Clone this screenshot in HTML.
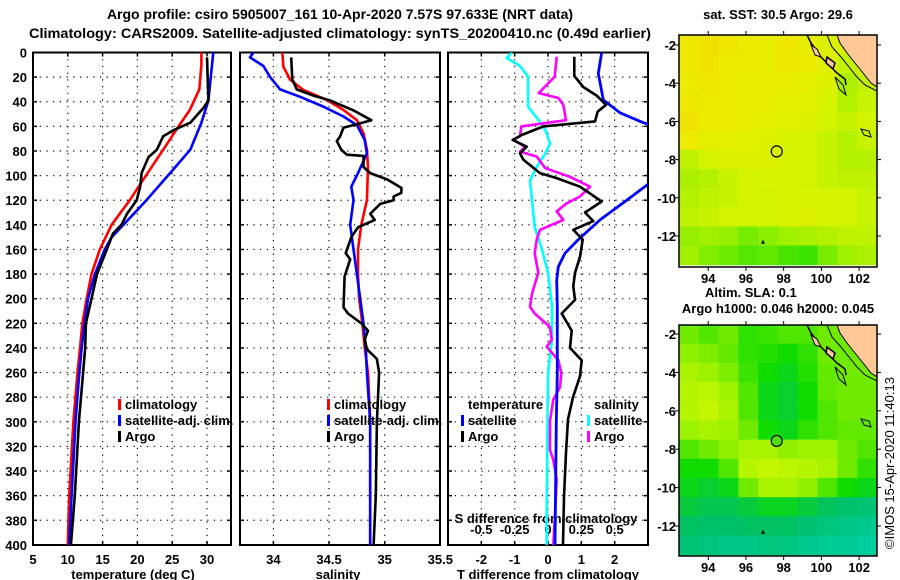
<!DOCTYPE html>
<html><head><meta charset="utf-8">
<style>
html,body{margin:0;padding:0;background:#fff;}
svg{display:block;font-family:"Liberation Sans",Arial,sans-serif;font-weight:bold;font-size:13px;}
</style></head>
<body>
<svg id="chart" width="900" height="580" viewBox="0 0 900 580" xmlns="http://www.w3.org/2000/svg">
<text x="340" y="19" text-anchor="middle" font-size="14">Argo profile: csiro 5905007_161 10-Apr-2020 7.57S 97.633E (NRT data)</text>
<text x="29" y="38" textLength="622" lengthAdjust="spacingAndGlyphs" font-size="14">Climatology: CARS2009. Satellite-adjusted climatology: synTS_20200410.nc (0.49d earlier)</text>
<g id="g"></g>
</svg>
<script>
// ---------- data ----------
const tClimDepth=[0,10,30,47,60,79,101,120,140,160,180,200,220,240,260,300,360,400];
const tClim=[29.2,29.2,28.9,27.5,25.9,23.7,21.1,18.9,16.3,14.6,13.4,12.7,12.1,11.75,11.4,10.8,10.2,10.0];
const tSatDepth=[0,39,57,79,98,120,140,150,160,180,200,220,240,260,300,360,400];
const tSat=[30.9,30.2,29.2,27.6,24.7,21.3,18.0,16.3,15.3,13.9,12.9,12.4,12.0,11.65,11.1,10.55,10.2];
const tArgoDepth=[4,39,45,57,63,68,79,85,98,109,120,131,140,147,160,180,200,220,240,260,300,360,400];
const tArgo=[30.0,30.2,29.5,27.6,25.2,23.7,22.8,21.6,20.6,20.4,19.9,18.5,17.7,16.5,15.6,14.2,13.4,12.6,12.5,12.2,11.6,11.0,10.45];

const sClimDepth=[0,11.5,22,30.5,38.6,46.7,55,65.6,79,93,120,140,160,180,200,220,240,260,300,400];
const sClim=[34.08,34.09,34.15,34.27,34.48,34.63,34.75,34.81,34.84,34.85,34.84,34.79,34.76,34.76,34.77,34.80,34.82,34.85,34.87,34.87];
const sSatDepth=[0,4,11,20,30,36,44,52,59,71,82,98,109,120,140,160,180,200,220,240,260,300,400];
const sSat=[33.82,33.79,33.91,33.97,34.06,34.24,34.45,34.63,34.75,34.82,34.84,34.76,34.70,34.72,34.69,34.72,34.75,34.78,34.81,34.83,34.84,34.87,34.87];
const sArgoDepth=[4,22,30,35,39,47,55,59,61,68,72,79,83,84,93,98,103,110,114,117,120,123,131,136,142,150,163,168,182,207,212,220,226,233,241,249,260,300,360,400];
const sArgo=[34.16,34.17,34.21,34.36,34.51,34.72,34.88,34.72,34.63,34.60,34.57,34.61,34.66,34.81,34.81,34.87,35.02,35.15,35.15,35.08,35.08,34.96,34.87,34.91,34.76,34.70,34.65,34.69,34.64,34.63,34.67,34.79,34.85,34.82,34.84,34.93,34.95,34.93,34.92,34.90];

const dTSatDepth=[0,17,38.5,49,57,60,80,100,107,120,136,152,163,174,185,206,261,300,400];
const dTSat=[1.61,1.51,1.66,2.16,2.86,3.24,4.5,4.5,3.0,2.36,1.56,0.91,0.51,0.31,0.26,0.28,0.28,0.25,0.21];
const dTArgoDepth=[3.4,19,28,35,42.6,48,56,60,67,71,76.5,82,87,98,102,109,121,130,137,144,152,166,179,190,201,212,226,240,250,263,280,298,325,361,400];
const dTArgo=[0.79,0.79,1.06,1.46,1.74,1.49,1.41,-0.14,-0.79,-1.06,-0.64,-0.84,-0.74,-0.24,0.26,0.96,1.61,1.11,1.36,0.76,1.04,0.96,0.81,0.76,0.81,0.41,0.71,0.66,1.01,0.96,0.75,0.6,0.54,0.48,0.45];
const dSSatDepth=[0,4.4,11,19.6,44,55,63,74,82,93,104,120,142,158,179,206,233,260,318,373,400];
const dSSat=[-0.27,-0.31,-0.21,-0.15,-0.15,-0.07,-0.02,0.015,-0.02,-0.085,-0.135,-0.12,-0.1,-0.05,0,0.03,0.03,0,-0.005,-0.01,-0.01];
const dSArgoDepth=[3.4,19.6,33,37,42.6,55,60,68,71,76.5,80.5,84.6,94,101,109,117,122.5,129,136,144,152,163,179,196,206.5,212,223,233.5,239,250,260.6,272,282,299,323,331,347,380,400];
const dSArgo=[0.065,0.05,-0.07,0.078,0.115,0.135,-0.2,-0.21,-0.26,-0.17,-0.21,-0.085,-0.02,0.165,0.315,0.24,0.14,0.065,0.115,-0.06,-0.085,-0.1,-0.073,-0.12,-0.135,-0.1,0.015,0.028,-0.01,0.078,0.1,0.09,0.04,0.015,0.015,0.04,0.065,0.05,0.04];

const depthTicks=[0,20,40,60,80,100,120,140,160,180,200,220,240,260,280,300,320,340,360,380,400];
const tempTicks=[5,10,15,20,25,30];
const salTicks=[34,34.5,35,35.5];
const dTTicks=[-2,-1,0,1,2];
const dSTicks=[-0.5,-0.25,0,0.25,0.5];
const lonTicks=[94,96,98,100,102];
const latTicks=[-2,-4,-6,-8,-10,-12];

const sstGrid=[
[.82,.84,.82,.80,.78,.82,.78,.72,.70,.70],
[.82,.84,.80,.80,.78,.82,.80,.75,.65,.70],
[.80,.82,.80,.78,.78,.78,.76,.72,.60,.65],
[.82,.80,.80,.78,.78,.76,.74,.70,.62,.66],
[.84,.80,.80,.78,.76,.74,.72,.68,.66,.68],
[.80,.76,.76,.74,.72,.70,.68,.66,.62,.66],
[.64,.68,.72,.72,.72,.70,.68,.66,.62,.62],
[.60,.62,.66,.68,.70,.70,.68,.66,.64,.64],
[.62,.64,.66,.68,.68,.70,.70,.70,.68,.66],
[.64,.66,.68,.68,.68,.70,.72,.70,.68,.66],
[.56,.58,.56,.50,.54,.58,.60,.62,.64,.64],
[.58,.52,.48,.44,.46,.42,.40,.50,.58,.60]];
const slaGrid=[
[.70,.65,.70,.60,.62,.65,.65,.70,.70,.70],
[.75,.72,.68,.60,.58,.55,.60,.70,.70,.70],
[.85,.80,.72,.62,.55,.50,.58,.68,.70,.70],
[.90,.92,.80,.65,.50,.45,.55,.68,.70,.70],
[.90,.95,.85,.65,.50,.45,.55,.65,.70,.70],
[.80,.85,.80,.70,.55,.50,.60,.65,.68,.68],
[.65,.70,.75,.85,.85,.75,.80,.80,.70,.65],
[.55,.55,.65,.90,.95,.92,.90,.85,.70,.60],
[.50,.45,.50,.70,.85,.85,.75,.65,.55,.50],
[.42,.38,.38,.42,.48,.48,.42,.36,.30,.26],
[.34,.32,.32,.34,.34,.34,.28,.22,.18,.14],
[.26,.22,.18,.18,.22,.20,.14,.10,.10,.06]];
const argoLon=97.633, argoLat=-7.57;

// ---------- helpers ----------
const NS="http://www.w3.org/2000/svg";
const G=document.getElementById('g');
function mk(tag,attrs,parent){const e=document.createElementNS(NS,tag);for(const k in attrs)e.setAttribute(k,attrs[k]);(parent||G).appendChild(e);return e;}
function txt(x,y,s,anchor,parent){const e=mk('text',{x:x,y:y,'text-anchor':anchor||'start'},parent);e.textContent=s;return e;}

const yD=d=>52.5+d*1.231;
const xT=t=>33+(t-5)*6.96;
const xS=s=>240+(s-33.7)*111.3;
const xDT=v=>548+v*33.33;
const xDS=v=>548+v*4*33.33;
const TOP=52.5,BOT=545;
const panels=[{x0:33,x1:231,name:'temperature'},{x0:240,x1:440,name:'salinity'},{x0:448,x1:648,name:'difference'}];

const defs=mk('defs',{});
panels.forEach((p,i)=>{const c=mk('clipPath',{id:'clip'+i},defs);mk('rect',{x:p.x0,y:TOP,width:p.x1-p.x0,height:BOT-TOP},c);});

panels.forEach((p,i)=>{
  const grp=mk('g',{});
  
  
  depthTicks.forEach(d=>{
    if(d>0&&d<400){const l=mk('line',{x1:p.x0,x2:p.x1,y1:yD(d),y2:yD(d),stroke:'#000','stroke-width':1.2,'stroke-dasharray':'1.2,5.5'},grp);
      
      }
    mk('line',{x1:p.x0,x2:p.x0+4,y1:yD(d),y2:yD(d),stroke:'#000','stroke-width':1.5},grp);
    mk('line',{x1:p.x1-4,x2:p.x1,y1:yD(d),y2:yD(d),stroke:'#000','stroke-width':1.5},grp);
  });
  const r=mk('rect',{x:p.x0,y:TOP,width:p.x1-p.x0,height:BOT-TOP,fill:'none',stroke:'#000','stroke-width':2},grp);
  
  
});
function vgrid(vals,fx,p){vals.forEach(v=>{const x=fx(v);if(x>p.x0+1&&x<p.x1-1){
  const l=mk('line',{x1:x,x2:x,y1:TOP,y2:BOT,stroke:'#000','stroke-width':1.2,'stroke-dasharray':'1.2,5.5'});
  
  
  mk('line',{x1:x,x2:x,y1:BOT-4,y2:BOT,stroke:'#000','stroke-width':1.5});
  mk('line',{x1:x,x2:x,y1:TOP,y2:TOP+4,stroke:'#000','stroke-width':1.5});}});}
vgrid(tempTicks,xT,panels[0]);vgrid(salTicks,xS,panels[1]);vgrid(dTTicks,xDT,panels[2]);

depthTicks.forEach(d=>{const t=txt(27,yD(d)+5,String(d),'end');
  
  });
tempTicks.forEach(v=>{const t=txt(xT(v),564,String(v),'middle');
  
  });
salTicks.forEach(v=>{const t=txt(xS(v),564,String(v),'middle');
  
  });
dTTicks.forEach(v=>{const t=txt(xDT(v),564,String(v),'middle');
  
  });
dSTicks.forEach(v=>{const t=txt(xDS(v),534,String(v),'middle');
  
  });
[[133,'temperature (deg C)','temperature-axis-title'],[338,'salinity','salinity-axis-title'],[548,'T difference from climatology','t-difference-axis-title']].forEach(a=>{
  const t=txt(a[0],579,a[1],'middle');
  
  });
{const t=txt(546,523,'S difference from climatology','middle');
  
  }

function series(depths,vals,fx,color,clip,name,w){
  const pts=depths.map((d,i)=>fx(vals[i]).toFixed(1)+','+yD(d).toFixed(1)).join(' ');
  const e=mk('polyline',{points:pts,fill:'none',stroke:color,'stroke-width':w||2.6,'stroke-linejoin':'round','clip-path':'url(#clip'+clip+')'});
  
  
}
series(tClimDepth,tClim,xT,'#ff0000',0,'temperature-climatology-line');
series(tSatDepth,tSat,xT,'#0000ff',0,'temperature-satellite-adj-line');
series(tArgoDepth,tArgo,xT,'#000',0,'temperature-argo-line');
series(sClimDepth,sClim,xS,'#ff0000',1,'salinity-climatology-line');
series(sSatDepth,sSat,xS,'#0000ff',1,'salinity-satellite-adj-line');
series(sArgoDepth,sArgo,xS,'#000',1,'salinity-argo-line');
series(dSSatDepth,dSSat,xDS,'#00ffff',2,'s-diff-satellite-line');
series(dSArgoDepth,dSArgo,xDS,'#ff00ff',2,'s-diff-argo-line');
series(dTSatDepth,dTSat,xDT,'#0000ff',2,'t-diff-satellite-line',2.8);
series(dTArgoDepth,dTArgo,xDT,'#000',2,'t-diff-argo-line');

function legend(x,y,color,label,name){
  const g=mk('g',{});
  
  
  if(color) mk('rect',{x:x-7,y:y-10,width:3,height:11,fill:color},g);
  txt(x,y,label,'start',g);
}
legend(125,409,'#ff0000','climatology','legend-climatology');
legend(125,425,'#0000ff','satellite-adj. clim.','legend-satellite-adj');
legend(125,441,'#000','Argo','legend-argo');
legend(334,409,'#ff0000','climatology','legend-salinity-climatology');
legend(334,425,'#0000ff','satellite-adj. clim.','legend-salinity-satellite-adj');
legend(334,441,'#000','Argo','legend-salinity-argo');
legend(468,409,null,'temperature','legend-temperature-header');
legend(468,425,'#0000ff','satellite','legend-t-satellite');
legend(468,441,'#000','Argo','legend-t-argo');
legend(594,409,null,'salinity','legend-salinity-header');
legend(594,425,'#00ffff','satellite','legend-s-satellite');
legend(594,441,'#ff00ff','Argo','legend-s-argo');

// ---------- maps ----------
function lerpC(stops,v){v=Math.max(0,Math.min(1,v));for(let i=1;i<stops.length;i++){if(v<=stops[i][0]){const a=stops[i-1],b=stops[i];const f=(v-a[0])/(b[0]-a[0]);
  const c=[0,1,2].map(k=>Math.round(a[1][k]+(b[1][k]-a[1][k])*f));return 'rgb('+c.join(',')+')';}}return 'rgb('+stops[stops.length-1][1].join(',')+')';}
const sstStops=[[0,[0,200,160]],[0.3,[0,216,0]],[0.5,[120,236,0]],[0.68,[210,244,0]],[0.8,[236,236,0]],[0.9,[246,212,0]],[1,[240,128,0]]];
const slaStops=[[0,[0,208,168]],[0.33,[0,192,104]],[0.55,[16,220,0]],[0.75,[144,240,0]],[1,[208,248,0]]];
function drawMap(box,grid,stops,name,circleFill){
  const g=mk('g',{});
  
  
  const xL=lon=>box.x0+(lon-92.45)*18.86;
  const yL=lat=>box.y2+(-2-lat)*box.py;
  const cid='mclip'+name;
  const cp=mk('clipPath',{id:cid},defs);mk('rect',{x:box.x0,y:box.y0,width:box.x1-box.x0,height:box.y1-box.y0},cp);
  const cg=mk('g',{'clip-path':'url(#'+cid+')'},g);
  grid.forEach((row,r)=>row.forEach((v,c)=>{
    const lon0=92.45+c*1.05, lat0=-1.5-r;
    const cell=mk('rect',{x:xL(lon0),y:yL(lat0),width:1.05*18.86+0.6,height:box.py+0.6,fill:lerpC(stops,v)},cg);
    
    
  }));
  const ox=box.x0, oy=box.y0;
  const land=mk('polygon',{points:[[158,0],[161,8],[168,18],[176,28],[184,38],[192,48],[198,52],[198,0]].map(p=>(ox+p[0])+','+(oy+p[1])).join(' '),fill:'#ffc896',stroke:'#000','stroke-width':1},cg);
  
  
  mk('polyline',{points:[[148,0],[153,12],[162,22],[170,32],[178,42],[186,50],[198,56]].map(p=>(ox+p[0])+','+(oy+p[1])).join(' '),fill:'none',stroke:'#000','stroke-width':1},cg);
  mk('polyline',{points:[[128,0],[132,8],[138,16],[142,22],[150,30],[158,38],[166,44],[167,50]].map(p=>(ox+p[0])+','+(oy+p[1])).join(' '),fill:'none',stroke:'#000','stroke-width':1.5},cg);
  mk('polygon',{points:[[132,10],[138,14],[142,22],[136,20]].map(p=>(ox+p[0])+','+(oy+p[1])).join(' '),fill:'#ffc896',stroke:'#000','stroke-width':1},cg);
  mk('polygon',{points:[[148,22],[156,28],[154,34],[147,28]].map(p=>(ox+p[0])+','+(oy+p[1])).join(' '),fill:'#ffc896',stroke:'#000','stroke-width':1.5},cg);
  mk('polygon',{points:[[156,42],[164,50],[167,60],[160,54]].map(p=>(ox+p[0])+','+(oy+p[1])).join(' '),fill:'none',stroke:'#000','stroke-width':1},cg);
  mk('polygon',{points:[[182,94],[190,96],[192,102],[185,100]].map(p=>(ox+p[0])+','+(oy+p[1])).join(' '),fill:'none',stroke:'#000','stroke-width':1},cg);
  mk('path',{d:`M${xL(96.9)-2},${yL(-12.3)+2} l2,-4 l2,4 z`,fill:'#000'},cg);
  const circ=mk('circle',{cx:xL(argoLon),cy:yL(argoLat),r:5.5,fill:circleFill,stroke:'#000','stroke-width':1.2},g);
  
  
  mk('rect',{x:box.x0,y:box.y0,width:box.x1-box.x0,height:box.y1-box.y0,fill:'none',stroke:'#000','stroke-width':1.5},g);
  lonTicks.forEach(l=>{const x=xL(l);
    mk('line',{x1:x,x2:x,y1:box.y0-4,y2:box.y0,stroke:'#000'},g);
    mk('line',{x1:x,x2:x,y1:box.y1,y2:box.y1+4,stroke:'#000'},g);
    const t=txt(x,box.y1+16,String(l),'middle',g);
    
    });
  latTicks.forEach(l=>{const y=yL(l);
    mk('line',{x1:box.x0-4,x2:box.x0,y1:y,y2:y,stroke:'#000'},g);
    mk('line',{x1:box.x1,x2:box.x1+4,y1:y,y2:y,stroke:'#000'},g);
    const t=txt(box.x0-3,y+5,String(l),'end',g);
    
    });
}
drawMap({x0:679,x1:877,y0:35,y1:267,y2:45,py:19.1},sstGrid,sstStops,'sst-map','none');
drawMap({x0:679,x1:877,y0:325,y1:556,y2:334,py:19.2},slaGrid,slaStops,'sla-map','#50dc10');

[[778,19,'sat. SST: 30.5 Argo: 29.6','middle','sst-map-title'],[705,297,'Altim. SLA: 0.1','start','sla-value-label'],[778,313,'Argo h1000: 0.046 h2000: 0.045','middle','sla-map-title']].forEach(a=>{
  const t=txt(a[0],a[1],a[2],a[3]);
  
  });
{const t=txt(0,0,'©IMOS 15-Apr-2020 11:40:13','start');
  t.setAttribute('transform','translate(894,549) rotate(-90)');
  t.setAttribute('font-weight','normal');
  
  }
</script>
</body></html>
